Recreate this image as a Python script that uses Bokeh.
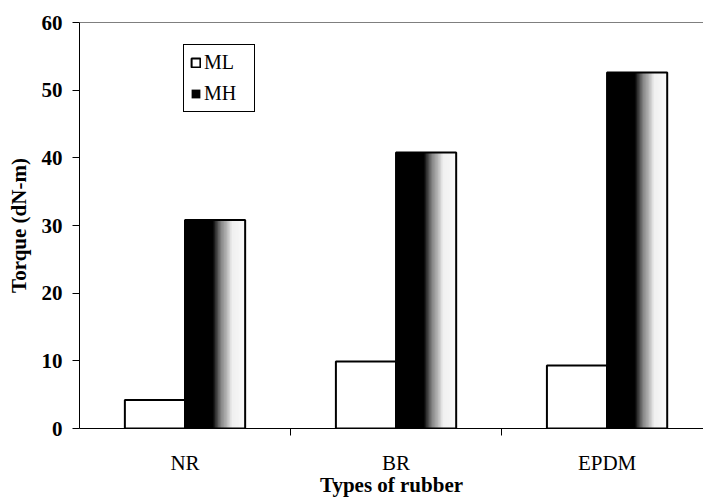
import numpy as np
from bokeh.plotting import figure
from bokeh.models import Range1d, FixedTicker, Legend, LegendItem, ColumnDataSource, Span
from bokeh.embed import file_html
from bokeh.resources import INLINE

categories = ["NR", "BR", "EPDM"]
ml_values = [4.2, 9.9, 9.3]
mh_values = [30.8, 40.8, 52.6]
y_ticks = [0, 10, 20, 30, 40, 50, 60]

FONT = "Liberation Serif"
bar_w = 0.285
centers = [i + 0.5 for i in range(len(categories))]

p = figure(width=703, height=499, output_backend="svg", toolbar_location=None,
           x_range=Range1d(0, 2.957), y_range=Range1d(0, 60),
           min_border_left=79, min_border_right=0, min_border_top=22, min_border_bottom=71)
p.xgrid.visible = False
p.ygrid.visible = False
p.outline_line_color = None
p.background_fill_color = "white"
p.border_fill_color = "white"

# ML bars
ml_src = ColumnDataSource(dict(x=[c - bar_w / 2 for c in centers], top=ml_values))
ml_r = p.vbar(x="x", top="top", bottom=0, width=bar_w, source=ml_src,
              fill_color="white", line_color="black", line_width=2)

# MH bars: horizontal gradient made from overlapping strips
n = 40
def gray(t):
    pts_t = [0.0, 0.46, 0.52, 0.60, 0.70, 0.78, 1.0]
    pts_g = [0, 0, 60, 135, 185, 240, 250]
    return int(np.interp(t, pts_t, pts_g))

lefts, rights, tops, cols = [], [], [], []
sw = bar_w / n
for c, v in zip(centers, mh_values):
    for k in range(n):
        t = (k + 0.5) / n
        lefts.append(c + sw * k)
        rights.append(c + bar_w)
        tops.append(v)
        g = gray(t)
        cols.append("#%02x%02x%02x" % (g, g, g))
strip_src = ColumnDataSource(dict(left=lefts, right=rights, top=tops, color=cols))
mh_r = p.quad(left="left", right="right", top="top", bottom=0, source=strip_src,
              fill_color="color", line_color=None)
mh_out = ColumnDataSource(dict(x=[c + bar_w / 2 for c in centers], top=mh_values))
p.vbar(x="x", top="top", bottom=0, width=bar_w, source=mh_out,
       fill_color=None, line_color="black", line_width=2)

# top border line
p.add_layout(Span(location=60, dimension="width", line_color="black", line_width=1))

# axes
p.xaxis.ticker = FixedTicker(ticks=centers, minor_ticks=[1, 2])
p.xaxis.major_label_overrides = {c: lab for c, lab in zip(centers, categories)}
p.xaxis.major_tick_out = 0
p.xaxis.major_tick_in = 0
p.xaxis.minor_tick_out = 7
p.xaxis.minor_tick_in = 0
p.xaxis.axis_label = "Types of rubber"
p.xaxis.major_label_text_font = FONT
p.xaxis.major_label_text_font_size = "21px"
p.xaxis.major_label_standoff = 15
p.xaxis.axis_label_text_font = FONT
p.xaxis.axis_label_text_font_size = "21px"
p.xaxis.axis_label_text_font_style = "bold"
p.xaxis.axis_label_standoff = -5

p.yaxis.ticker = FixedTicker(ticks=y_ticks, minor_ticks=[])
p.yaxis.major_tick_out = 7
p.yaxis.major_tick_in = 0
p.yaxis.axis_label = "Torque (dN-m)"
p.yaxis.major_label_text_font = FONT
p.yaxis.major_label_text_font_size = "21px"
p.yaxis.major_label_text_font_style = "bold"
p.yaxis.major_label_standoff = 10
p.yaxis.axis_label_text_font = FONT
p.yaxis.axis_label_text_font_size = "21px"
p.yaxis.axis_label_text_font_style = "bold"
p.yaxis.axis_label_standoff = 8
for ax in (p.xaxis, p.yaxis):
    ax.axis_line_color = "black"
    ax.major_tick_line_color = "black"
    ax.minor_tick_line_color = "black"
    ax.major_label_text_color = "black"
    ax.axis_label_text_color = "black"

legend = Legend(items=[LegendItem(label="ML", renderers=[ml_r], index=0),
                       LegendItem(label="MH", renderers=[mh_r], index=0)],
                location=(104, 316))
legend.border_line_color = "black"
legend.border_line_width = 1
legend.border_line_alpha = 1
legend.label_text_font = FONT
legend.label_text_font_size = "20px"
legend.label_text_color = "black"
legend.glyph_width = 11
legend.glyph_height = 11
legend.padding = 6
legend.spacing = 8
legend.margin = 0
legend.label_standoff = 3
legend.label_width = 44
legend.background_fill_alpha = 1
p.add_layout(legend)

open("out.html", "w").write(file_html(p, INLINE))
